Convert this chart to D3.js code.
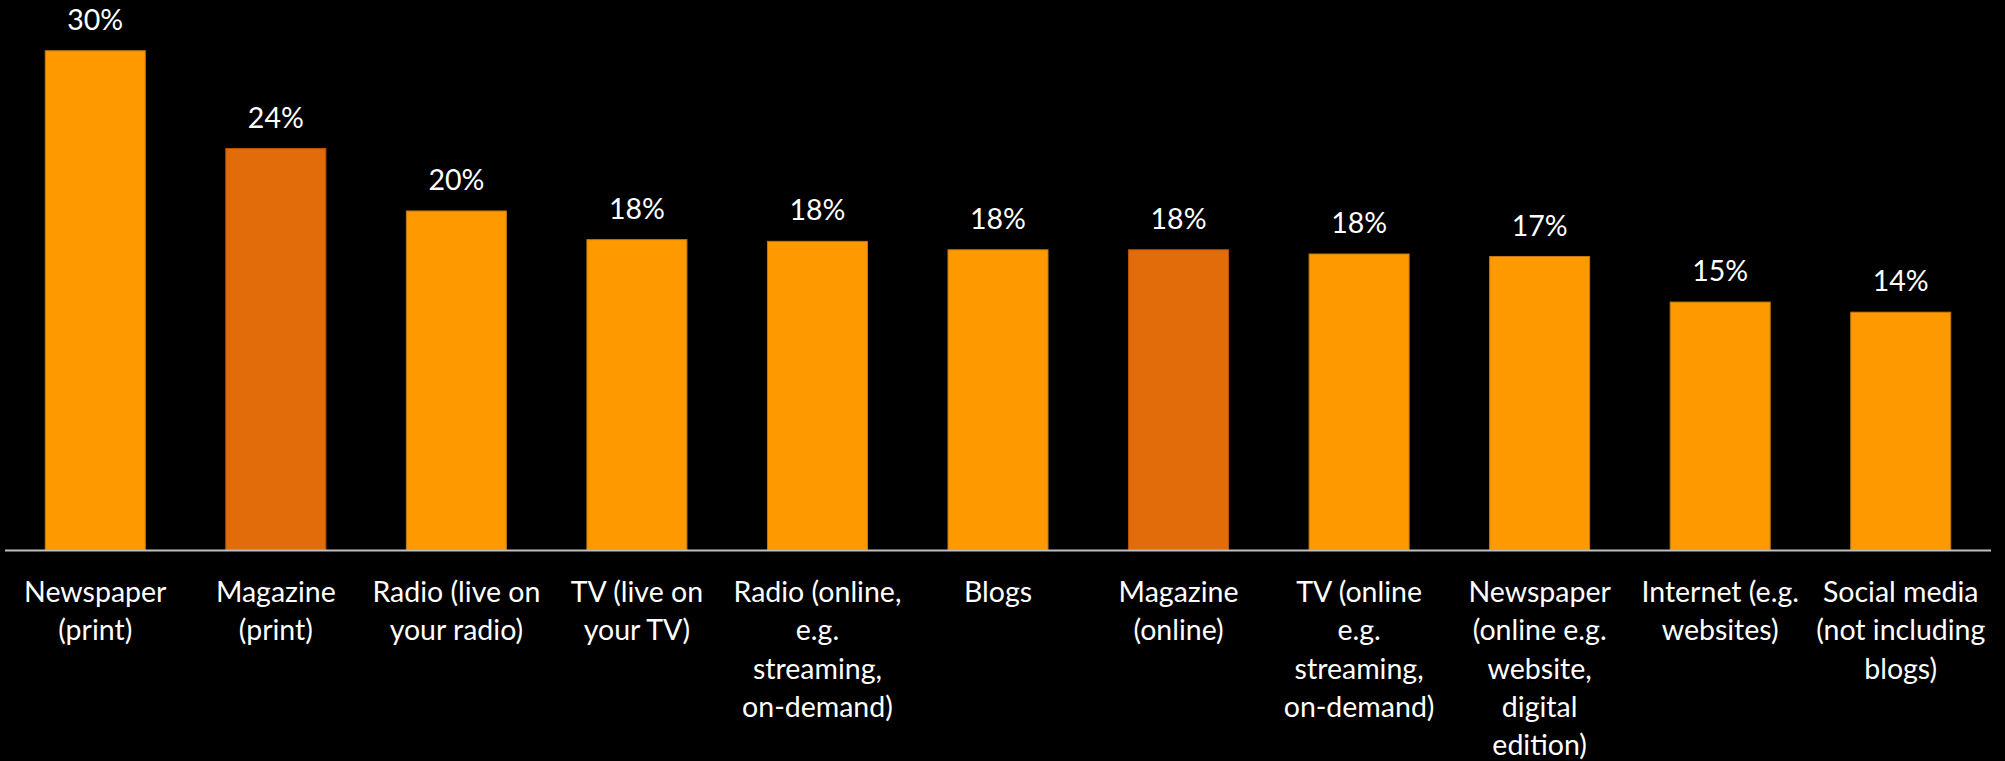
<!DOCTYPE html>
<html>
<head>
<meta charset="utf-8">
<script src="https://cdn.jsdelivr.net/npm/d3@7"></script>
<style>
  html, body { margin: 0; padding: 0; background: #000; }
  svg { display: block; }
  text { font-family: Lato, "Open Sans", sans-serif; fill: #fff; }
</style>
</head>
<body>
<svg width="2005" height="761"></svg>
<script>
// categories (wrapped the same way as the original chart)
const categories = [
    ["Newspaper", "(print)"],
    ["Magazine", "(print)"],
    ["Radio (live on", "your radio)"],
    ["TV (live on", "your TV)"],
    ["Radio (online,", "e.g.", "streaming,", "on-demand)"],
    ["Blogs"],
    ["Magazine", "(online)"],
    ["TV (online", "e.g.", "streaming,", "on-demand)"],
    ["Newspaper", "(online e.g.", "website,", "digital", "edition)"],
    ["Internet (e.g.", "websites)"],
    ["Social media", "(not including", "blogs)"]
];
const values = [29.6, 23.8, 20.1, 18.4, 18.3, 17.8, 17.8, 17.55, 17.4, 14.7, 14.1];
const highlighted = [false, true, false, false, false, false, true, false, false, false, false];

const baseY = 550;

const svg = d3.select("svg");

const xScale = d3.scaleBand()
    .domain(d3.range(categories.length))
    .range([5, 1991])
    .paddingInner(0.446)
    .paddingOuter(0.223);

const yScale = d3.scaleLinear()
    .domain([0, 30])
    .range([baseY, 44]);

// bars
svg.selectAll("rect.bar")
    .data(values)
    .enter()
    .append("rect")
    .attr("class", "bar")
    .attr("x", (d, i) => xScale(i))
    .attr("y", d => yScale(d))
    .attr("width", xScale.bandwidth())
    .attr("height", d => baseY - yScale(d))
    .attr("fill", (d, i) => highlighted[i] ? "#E36C0A" : "#FF9900")
    .attr("stroke", (d, i) => highlighted[i] ? "#B85608" : "#C27A10")
    .attr("stroke-width", 1);

// axis line
svg.append("line")
    .attr("x1", 5).attr("x2", 1991)
    .attr("y1", baseY + 0.5).attr("y2", baseY + 0.5)
    .attr("stroke", "#BFBFBF")
    .attr("stroke-width", 2);

// value labels
svg.selectAll("text.value")
    .data(values)
    .enter()
    .append("text")
    .attr("class", "value")
    .attr("x", (d, i) => xScale(i) + xScale.bandwidth() / 2)
    .attr("y", d => yScale(d) - 21)
    .attr("text-anchor", "middle")
    .style("font-size", "28.5px")
    .text(d => Math.round(d) + "%");

// category labels
const catLabels = svg.selectAll("text.cat")
    .data(categories)
    .enter()
    .append("text")
    .attr("class", "cat")
    .attr("text-anchor", "middle")
    .style("font-size", "28.5px")
    .attr("transform", (d, i) => `translate(${xScale(i) + xScale.bandwidth() / 2},602)`);

catLabels.selectAll("tspan")
    .data(d => d)
    .enter()
    .append("tspan")
    .attr("x", 0)
    .attr("y", (d, j) => j * 38.3)
    .text(d => d);
</script>
</body>
</html>
